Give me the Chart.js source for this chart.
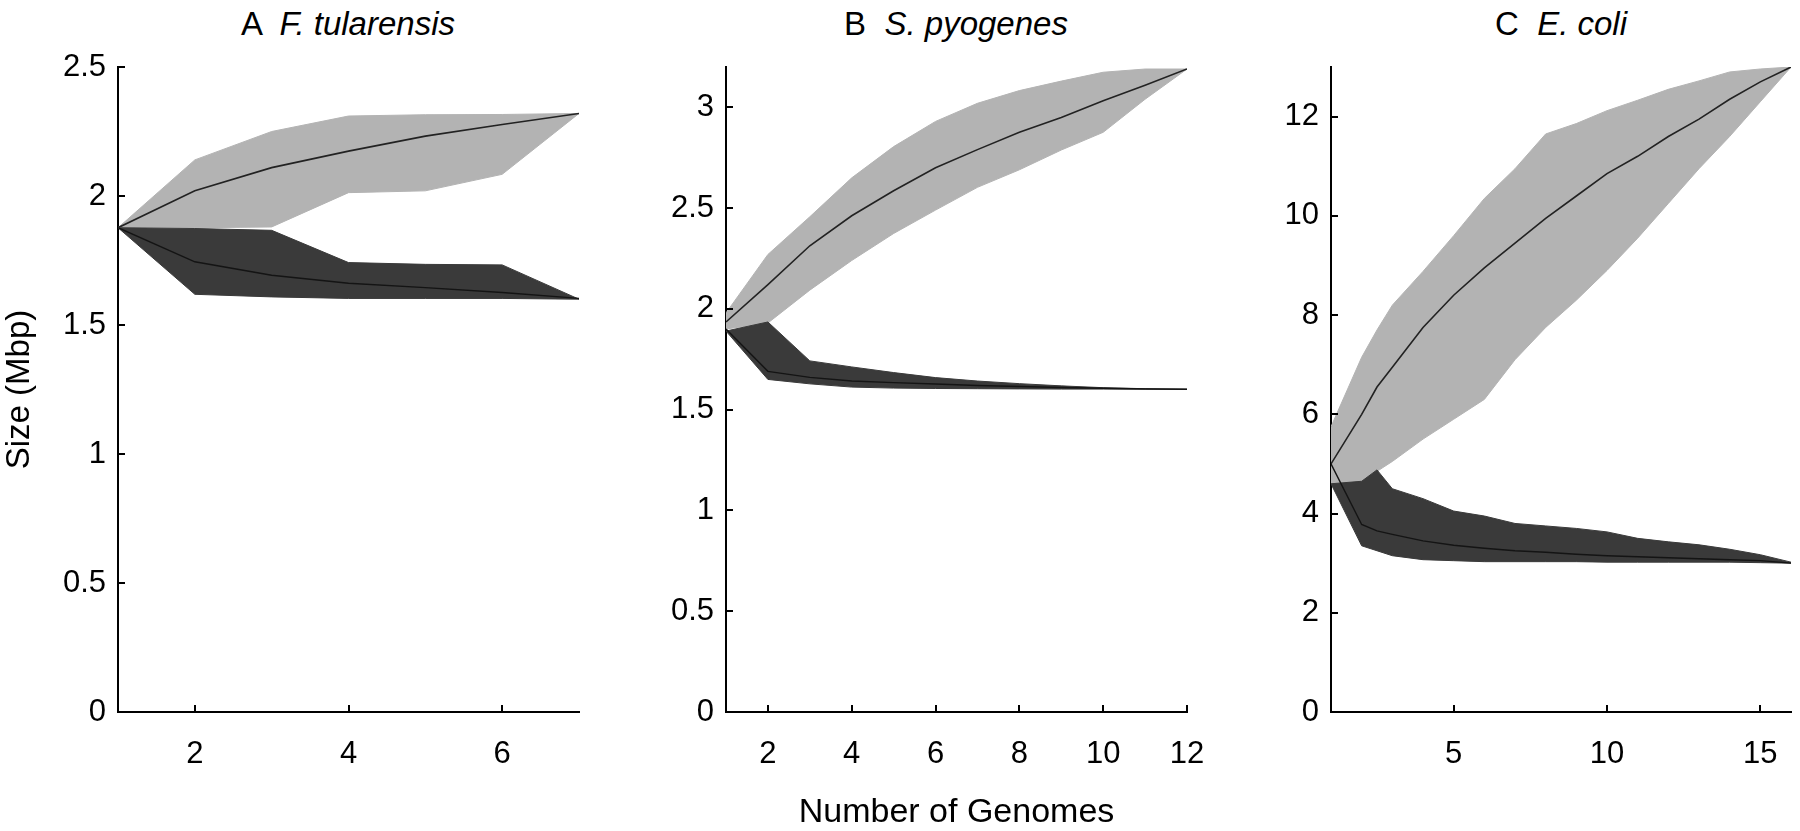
<!DOCTYPE html>
<html>
<head>
<meta charset="utf-8">
<script src="https://cdn.jsdelivr.net/npm/chart.js@4.4.1/dist/chart.umd.min.js"></script>
<style>
body { margin:0; background:#fff; width:1800px; height:831px; overflow:hidden; position:relative;
       font-family:"Liberation Sans", Arial, sans-serif; }
canvas { position:absolute; top:0; }
.ttl { position:absolute; top:7px; font-size:33px; line-height:34px; white-space:pre;
       transform:translateX(-50%); color:#000; }
</style>
</head>
<body>
<div class="ttl" style="left:348px">A  <i>F. tularensis</i></div>
<div class="ttl" style="left:956px">B  <i>S. pyogenes</i></div>
<div class="ttl" style="left:1561px">C  <i>E. coli</i></div>
<canvas id="chartA" width="600" height="831" style="left:0"></canvas>
<canvas id="chartB" width="640" height="831" style="left:600px"></canvas>
<canvas id="chartC" width="600" height="831" style="left:1200px"></canvas>
<script>
// number of genomes sampled in each panel
var xA = [1, 2, 3, 4, 5, 6, 7];
var xB = [1, 2, 3, 4, 5, 6, 7, 8, 9, 10, 11, 12];
var xC = [1, 2, 2.5, 3, 4, 5, 6, 7, 8, 9, 10, 11, 12, 13, 14, 15, 16];

// A - F. tularensis (Mbp)
var panHighA  = [1.877, 2.14, 2.25, 2.31, 2.315, 2.316, 2.32];
var panLowA   = [1.877, 1.877, 1.88, 2.013, 2.02, 2.084, 2.32];
var panMeanA  = [1.877, 2.02, 2.11, 2.174, 2.232, 2.277, 2.32];
var coreHighA = [1.877, 1.874, 1.867, 1.742, 1.735, 1.733, 1.6];
var coreLowA  = [1.877, 1.619, 1.609, 1.603, 1.603, 1.603, 1.6];
var coreMeanA = [1.877, 1.745, 1.693, 1.662, 1.645, 1.626, 1.603];

// B - S. pyogenes
var panHighB  = [1.98, 2.27, 2.457, 2.65, 2.805, 2.93, 3.02, 3.083, 3.13, 3.174, 3.19, 3.19];
var panLowB   = [1.9, 1.93, 2.093, 2.24, 2.374, 2.49, 2.603, 2.69, 2.788, 2.876, 3.04, 3.19];
var panMeanB  = [1.935, 2.12, 2.313, 2.462, 2.586, 2.7, 2.79, 2.876, 2.95, 3.033, 3.11, 3.19];
var coreHighB = [1.89, 1.935, 1.742, 1.712, 1.684, 1.659, 1.642, 1.629, 1.618, 1.609, 1.604, 1.601];
var coreLowB  = [1.89, 1.65, 1.628, 1.612, 1.607, 1.605, 1.604, 1.603, 1.602, 1.602, 1.601, 1.601];
var coreMeanB = [1.9, 1.69, 1.66, 1.642, 1.634, 1.627, 1.62, 1.615, 1.61, 1.606, 1.603, 1.601];

// C - E. coli
var panHighC  = [5.75, 7.15, 7.7, 8.2, 8.88, 9.6, 10.35, 10.95, 11.65, 11.86, 12.12, 12.33, 12.55, 12.72, 12.9, 12.96, 13.0];
var panLowC   = [4.6, 4.63, 4.85, 5.05, 5.5, 5.9, 6.3, 7.1, 7.75, 8.3, 8.9, 9.55, 10.25, 10.95, 11.6, 12.3, 13.0];
var panMeanC  = [5.0, 6.0, 6.55, 6.95, 7.75, 8.4, 8.95, 9.45, 9.95, 10.4, 10.85, 11.2, 11.6, 11.95, 12.35, 12.7, 13.0];
var coreHighC = [4.6, 4.65, 4.88, 4.5, 4.3, 4.05, 3.95, 3.8, 3.75, 3.7, 3.63, 3.5, 3.43, 3.37, 3.28, 3.17, 3.02];
var coreLowC  = [4.6, 3.35, 3.25, 3.15, 3.07, 3.05, 3.03, 3.03, 3.03, 3.03, 3.02, 3.02, 3.02, 3.02, 3.02, 3.01, 3.0];
var coreMeanC = [5.0, 3.78, 3.65, 3.58, 3.45, 3.36, 3.3, 3.25, 3.22, 3.18, 3.15, 3.13, 3.11, 3.09, 3.07, 3.05, 3.0];

// tick labels
var xTicksA = [2, 4, 6];
var xTicksB = [2, 4, 6, 8, 10, 12];
var xTicksC = [5, 10, 15];
var yTicksA = [0, 0.5, 1, 1.5, 2, 2.5];
var yTicksB = [0, 0.5, 1, 1.5, 2, 2.5, 3];
var yTicksC = [0, 2, 4, 6, 8, 10, 12];

var LIGHT = '#b3b3b3';
var DARK = '#3a3a3a';
var FONT = "'Liberation Sans', Arial, sans-serif";

function pts(xs, ys) {
  return xs.map(function (x, i) { return { x: x, y: ys[i] }; });
}

// matlab style ticks pointing into the plot
var inwardTicks = {
  id: 'inwardTicks',
  afterDraw: function (chart) {
    var ctx = chart.ctx, area = chart.chartArea;
    var sx = chart.scales.x, sy = chart.scales.y;
    ctx.save();
    ctx.strokeStyle = '#000';
    ctx.lineWidth = 2;
    ctx.beginPath();
    sx.ticks.forEach(function (t) {
      var px = Math.round(sx.getPixelForValue(t.value));
      ctx.moveTo(px, area.bottom);
      ctx.lineTo(px, area.bottom - 7);
    });
    sy.ticks.forEach(function (t) {
      var py = Math.round(sy.getPixelForValue(t.value));
      ctx.moveTo(area.left, py);
      ctx.lineTo(area.left + 7, py);
    });
    ctx.stroke();
    ctx.restore();
  }
};

function drawPanel(id, p) {
  new Chart(document.getElementById(id), {
    type: 'line',
    data: {
      datasets: [
        { data: pts(p.x, p.panLow), borderColor: LIGHT, borderWidth: 1, fill: false, order: 6 },
        { data: pts(p.x, p.panHigh), borderColor: LIGHT, borderWidth: 1, backgroundColor: LIGHT, fill: '-1', order: 5 },
        { data: pts(p.x, p.panMean), borderColor: '#222', borderWidth: 1.6, fill: false, order: 4 },
        { data: pts(p.x, p.coreLow), borderColor: DARK, borderWidth: 1, fill: false, order: 3 },
        { data: pts(p.x, p.coreHigh), borderColor: DARK, borderWidth: 1, backgroundColor: DARK, fill: '-1', order: 2 },
        { data: pts(p.x, p.coreMean), borderColor: '#141414', borderWidth: 1.4, fill: false, order: 1 }
      ]
    },
    options: {
      responsive: false,
      animation: false,
      devicePixelRatio: 1,
      layout: { padding: { top: 67, right: p.padRight, left: 0, bottom: 0 } },
      plugins: { legend: { display: false }, tooltip: { enabled: false } },
      elements: { point: { radius: 0 }, line: { tension: 0 } },
      scales: {
        x: {
          type: 'linear',
          min: p.x[0],
          max: p.x[p.x.length - 1],
          border: { display: true, color: '#000', width: 2 },
          grid: { display: false, drawTicks: false },
          ticks: { color: '#000', font: { family: FONT, size: 31 }, padding: 24, maxRotation: 0,
                   callback: function (v) { return String(v); } },
          title: p.xTitle ? { display: true, text: p.xTitle, color: '#000',
                              font: { family: FONT, size: 34, lineHeight: 1.1 }, padding: { top: 0, bottom: 0 } } : { display: false },
          afterBuildTicks: function (s) { s.ticks = p.xTicks.map(function (v) { return { value: v }; }); },
          afterFit: function (s) { s.height = 119; s.paddingLeft = 0; s.paddingRight = 0; }
        },
        y: {
          type: 'linear',
          min: 0,
          max: p.yMax,
          border: { display: true, color: '#000', width: 2 },
          grid: { display: false, drawTicks: false },
          ticks: { color: '#000', font: { family: FONT, size: 31 }, padding: 12,
                   callback: function (v) { return String(v); } },
          title: p.yTitle ? { display: true, text: p.yTitle, color: '#000',
                              font: { family: FONT, size: 33, lineHeight: 1.1 }, padding: { top: 2, bottom: 0 } } : { display: false },
          afterBuildTicks: function (s) { s.ticks = p.yTicks.map(function (v) { return { value: v }; }); },
          afterFit: function (s) { s.width = p.left; s.paddingTop = 0; s.paddingBottom = 0; }
        }
      }
    },
    plugins: [inwardTicks]
  });
}

drawPanel('chartA', { x: xA, panHigh: panHighA, panLow: panLowA, panMean: panMeanA,
  coreHigh: coreHighA, coreLow: coreLowA, coreMean: coreMeanA,
  xTicks: xTicksA, yTicks: yTicksA, yMax: 2.5, left: 118, padRight: 21, yTitle: 'Size (Mbp)' });

drawPanel('chartB', { x: xB, panHigh: panHighB, panLow: panLowB, panMean: panMeanB,
  coreHigh: coreHighB, coreLow: coreLowB, coreMean: coreMeanB,
  xTicks: xTicksB, yTicks: yTicksB, yMax: 3.2, left: 126, padRight: 53, xTitle: 'Number of Genomes' });

drawPanel('chartC', { x: xC, panHigh: panHighC, panLow: panLowC, panMean: panMeanC,
  coreHigh: coreHighC, coreLow: coreLowC, coreMean: coreMeanC,
  xTicks: xTicksC, yTicks: yTicksC, yMax: 13, left: 131, padRight: 9 });
</script>
</body>
</html>
